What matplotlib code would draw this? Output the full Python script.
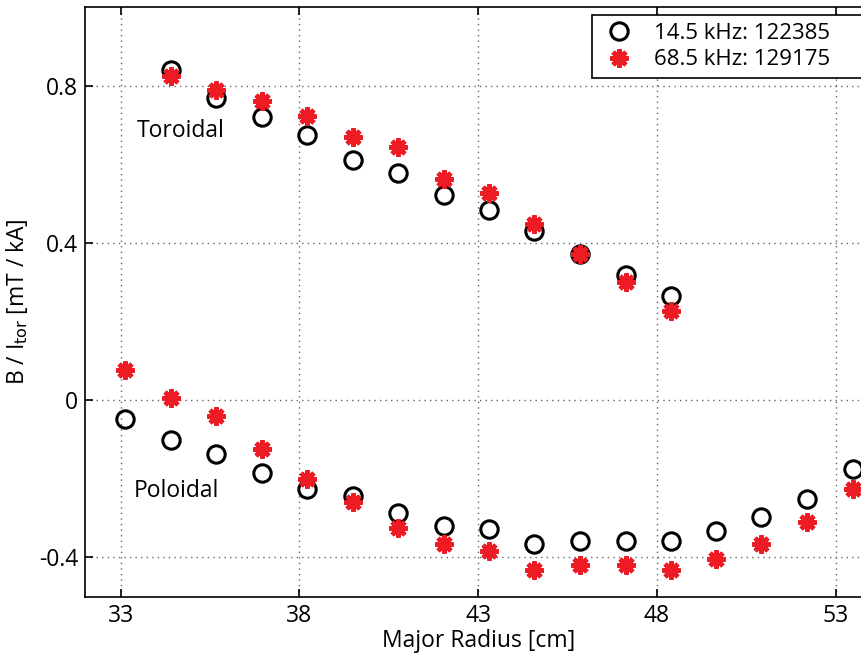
import matplotlib
matplotlib.use("Agg")
import matplotlib.pyplot as plt
from matplotlib.lines import Line2D

plt.rcParams["font.family"] = ["Open Sans", "DejaVu Sans"]
plt.rcParams["font.size"] = 16.5

RED = "#ed1c24"

# toroidal component (12 coil positions)
tor_r = [34.41, 35.67, 36.95, 38.22, 39.50, 40.75, 42.03, 43.29, 44.57, 45.85, 47.12, 48.40]
tor_145 = [0.841, 0.768, 0.721, 0.675, 0.611, 0.579, 0.522, 0.484, 0.431, 0.372, 0.319, 0.266]
tor_685 = [0.824, 0.789, 0.761, 0.723, 0.670, 0.645, 0.562, 0.528, 0.448, 0.372, 0.300, 0.226]

# poloidal component (17 coil positions)
pol_r = [33.13, 34.41, 35.67, 36.95, 38.22, 39.50, 40.75, 42.03, 43.29, 44.57,
         45.85, 47.12, 48.40, 49.66, 50.92, 52.19, 53.48]
pol_145 = [-0.047, -0.102, -0.138, -0.186, -0.227, -0.244, -0.288, -0.320, -0.328, -0.366,
           -0.358, -0.358, -0.358, -0.333, -0.298, -0.252, -0.174]
pol_685 = [0.076, 0.006, -0.039, -0.123, -0.201, -0.259, -0.324, -0.366, -0.383, -0.431,
           -0.420, -0.420, -0.431, -0.403, -0.366, -0.311, -0.225]

labels = ["14.5 kHz: 122385", "68.5 kHz: 129175"]
xticks = [33, 38, 43, 48, 53]
yticks = [-0.4, 0, 0.4, 0.8]
yticklabels = ["-0.4", "0", "0.4", "0.8"]

circ = dict(marker="o", linestyle="none", markersize=12.5, markerfacecolor="none",
            markeredgecolor="black", markeredgewidth=2.2)
star = dict(marker=(8, 2, 0), linestyle="none", markersize=13,
            markeredgecolor=RED, markerfacecolor=RED, markeredgewidth=3.3)

fig = plt.figure(figsize=(8.62, 6.54), dpi=100)
ax = fig.add_axes([0.0986, 0.0876, 0.9124, 0.9012])

ax.plot(tor_r, tor_145, zorder=3, **circ)
ax.plot(pol_r, pol_145, zorder=3, **circ)
ax.plot(tor_r, tor_685, zorder=4, **star)
ax.plot(pol_r, pol_685, zorder=4, **star)

ax.text(33.46, 0.685, "Toroidal", va="center", ha="left", fontsize=16.5)
ax.text(33.37, -0.231, "Poloidal", va="center", ha="left", fontsize=16.5)

ax.set_xlim(32, 54)
ax.set_ylim(-0.5, 1.0)
ax.set_xticks(xticks)
ax.set_yticks(yticks)
ax.set_yticklabels(yticklabels)
ax.tick_params(direction="in", top=True, right=True, length=6, width=1.2,
               labelsize=16.5, pad=5)
for s in ax.spines.values():
    s.set_linewidth(1.2)
ax.grid(True, linestyle=(0, (1, 3)), color="#666666", linewidth=1)

ax.set_xlabel("Major Radius [cm]", fontsize=16.5, labelpad=1)
ax.set_ylabel(r"B / I$_{\mathrm{tor}}$ [mT / kA]", fontsize=16.5, labelpad=6)

handles = [Line2D([], [], **circ), Line2D([], [], **star)]
top = 1 - 15 / 654
leg = fig.legend(handles, labels, loc="upper left",
                 bbox_to_anchor=(592 / 862, top - 0.1, 0.33, 0.1), mode="expand",
                 borderaxespad=0, fancybox=False,
                 framealpha=1, edgecolor="black", borderpad=0.35,
                 handletextpad=0.75, labelspacing=0.25, fontsize=16,
                 handlelength=1.7)
leg.get_frame().set_linewidth(1.2)

fig.savefig("out.png", dpi=100)
